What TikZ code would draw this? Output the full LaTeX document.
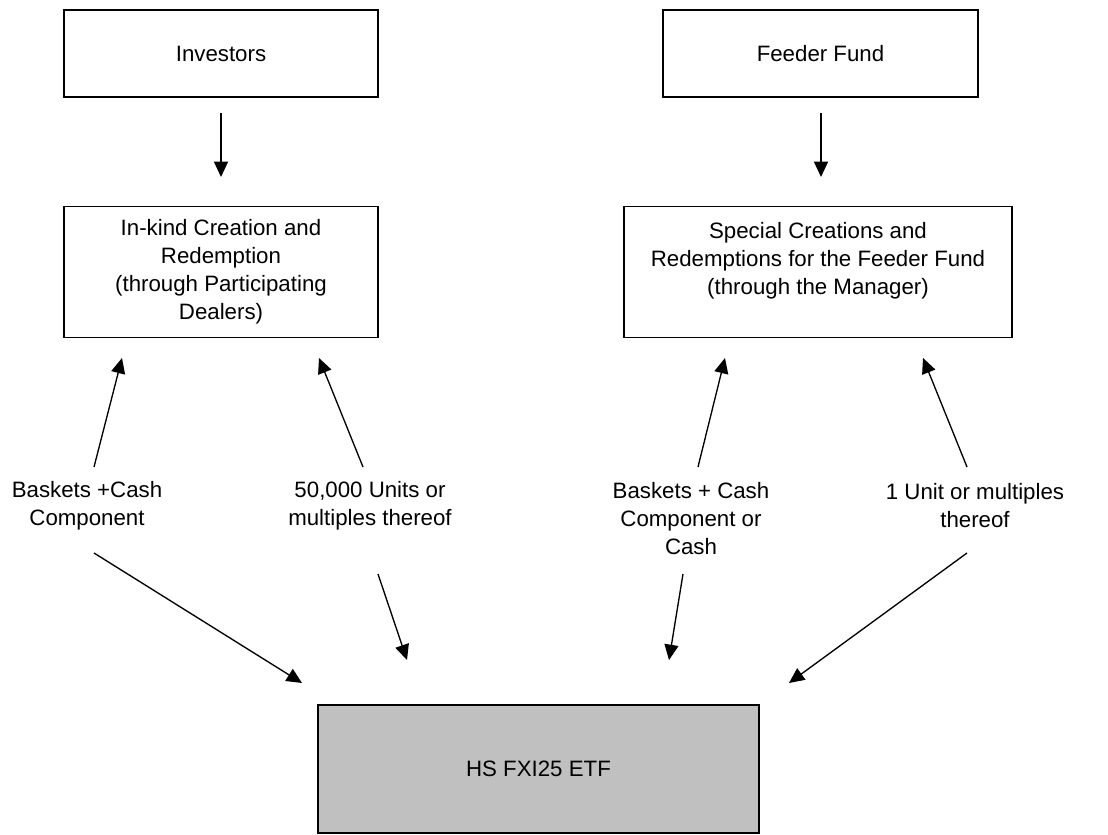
\documentclass[tikz,border=0pt]{standalone}
\usepackage{fontspec}
\setmainfont{Liberation Sans}
\usetikzlibrary{arrows.meta}
\definecolor{etfgray}{HTML}{C0C0C0}
\tikzset{
  box/.style={draw=black, line width=1pt, inner sep=0pt, align=center,
    font=\fontsize{16.7}{21}\selectfont},
  lbl/.style={inner sep=0pt, align=center, font=\fontsize{16.7}{21}\selectfont},
  arr/.style={line width=1pt, -{Triangle[length=11.5pt, width=10.5pt]}}
}
\begin{document}
\begin{tikzpicture}[x=0.75pt, y=-0.75pt]
\useasboundingbox (0,0) rectangle (1108,835);
% boxes
\node[box, minimum width=235.5pt, minimum height=65.25pt] (inv) at (221,53.5) {Investors};
\node[box, minimum width=236.25pt, minimum height=65.25pt] (feed) at (820.5,53.5) {Feeder Fund};
\node[box, minimum width=235.5pt, minimum height=98.25pt] (ink) at (221,272)
  {In-kind Creation and\\Redemption\\(through Participating\\Dealers)};
\node[box, minimum width=291pt, minimum height=98.25pt] (spec) at (818,272)
  {Special Creations and\\Redemptions for the Feeder Fund\\(through the Manager)\\\mbox{}};
\node[box, fill=etfgray, minimum width=330.75pt, minimum height=96pt] (etf) at (538.5,769) {HS FXI25 ETF};
% labels
\node[lbl] (l1) at (87,506) {Baskets +Cash\\Component};
\node[lbl] (l2) at (370,506) {50,000 Units or\\multiples thereof};
\node[lbl] (l3) at (691,519) {Baskets + Cash\\Component or\\Cash};
\node[lbl] (l4) at (975,506) {1 Unit or multiples\\thereof};
% connector end points
\coordinate (i1) at (221,113); \coordinate (i2) at (221,177);
\coordinate (f1) at (821,113); \coordinate (f2) at (821,177);
\coordinate (u1s) at (94,467);  \coordinate (u1e) at (122,358);
\coordinate (u2s) at (363,467); \coordinate (u2e) at (319,358);
\coordinate (u3s) at (698,467); \coordinate (u3e) at (725,358);
\coordinate (u4s) at (967,467); \coordinate (u4e) at (923,358);
\coordinate (d1s) at (94,553);  \coordinate (d1e) at (302,683);
\coordinate (d2s) at (378,574); \coordinate (d2e) at (407,660);
\coordinate (d3s) at (683,574); \coordinate (d3e) at (669,660);
\coordinate (d4s) at (967,553); \coordinate (d4e) at (789,683);
% connectors
\draw[arr] (i1) -- (i2);
\draw[arr] (f1) -- (f2);
\draw[arr] (u1s) -- (u1e);
\draw[arr] (u2s) -- (u2e);
\draw[arr] (u3s) -- (u3e);
\draw[arr] (u4s) -- (u4e);
\draw[arr] (d1s) -- (d1e);
\draw[arr] (d2s) -- (d2e);
\draw[arr] (d3s) -- (d3e);
\draw[arr] (d4s) -- (d4e);
\end{tikzpicture}
\end{document}
